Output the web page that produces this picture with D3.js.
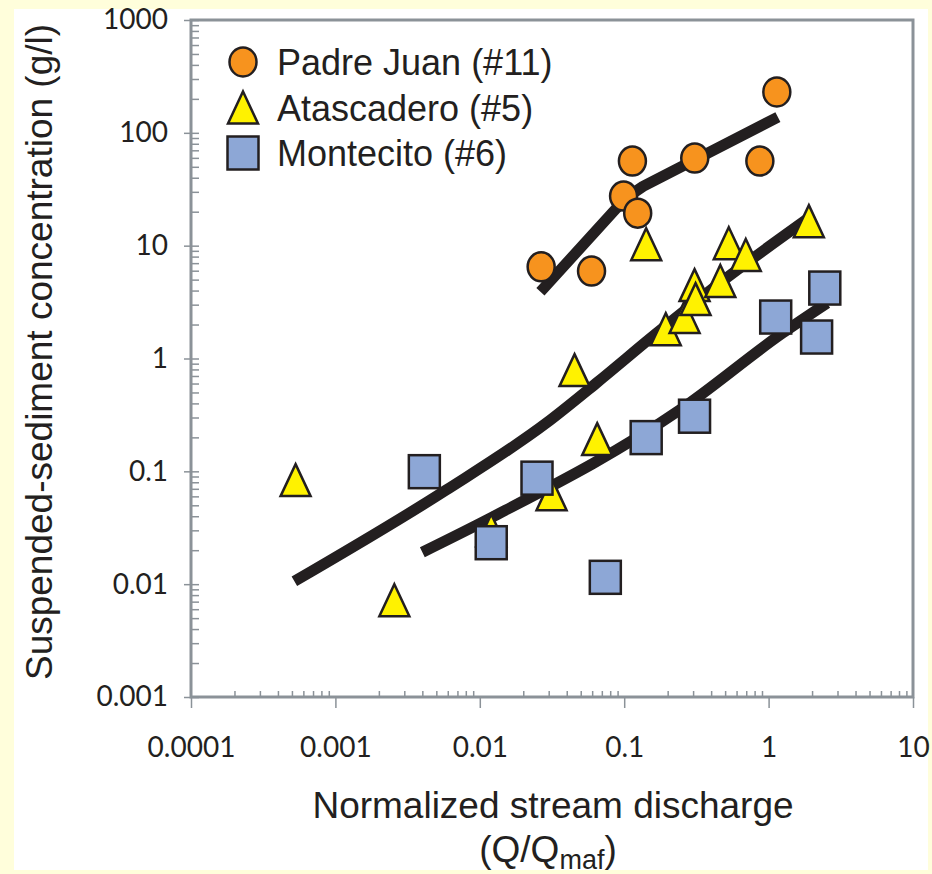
<!DOCTYPE html>
<html>
<head>
<meta charset="utf-8">
<script src="https://cdn.jsdelivr.net/npm/d3@7"></script>
<style>
	body { margin: 0; background: #fffedb; }
	svg { display: block; }
	.tick text { font-family: Lato, 'Open Sans', sans-serif; font-size: 28px; fill: #231f20; }
	.title { font-family: 'Liberation Sans', Arial, sans-serif; fill: #231f20; }
</style>
</head>
<body>
<svg id="chart" width="932" height="874"></svg>
<script>
// measured points (Q/Qmaf, g/l)
var padreQ = [ 0.0266, 0.0594, 0.114, 0.099, 0.124, 0.308, 0.87, 1.14 ];
var padreC = [ 6.5, 5.95, 56.2, 27.5, 19.4, 59.8, 56.2, 230 ];

var ataQ = [ 0.00053, 0.00256, 0.012, 0.0314, 0.065, 0.0453, 0.142, 0.194, 0.262, 0.307, 0.312, 0.463, 0.53, 0.695, 1.90 ];
var ataC = [ 0.0836, 0.0072, 0.030, 0.0628, 0.193, 0.789, 10.3, 1.82, 2.33, 4.47, 3.36, 4.86, 10.5, 8.26, 16.5 ];

var monteQ = [ 0.00413, 0.0120, 0.0249, 0.074, 0.142, 0.307, 1.12, 2.15, 2.45 ];
var monteC = [ 0.0993, 0.0233, 0.087, 0.0115, 0.199, 0.308, 2.33, 1.55, 4.21 ];

// fitted curves
var padreFitQ = [ 0.0263, 0.0885, 0.112, 0.135, 1.16 ];
var padreFitC = [ 3.9, 21.5, 28.5, 33.5, 138 ];
var ataFitQ = [ 0.00052, 0.00583, 0.0288, 0.0641, 0.168, 0.459, 2.03 ];
var ataFitC = [ 0.0106, 0.0681, 0.267, 0.605, 1.68, 4.66, 18.7 ];
var monteFitQ = [ 0.0040, 0.0122, 0.242, 1.25, 2.54 ];
var monteFitC = [ 0.0192, 0.0393, 0.349, 1.68, 3.10 ];

var xTicks = [ 0.0001, 0.001, 0.01, 0.1, 1, 10 ];
var xTickLabels = [ '0.0001', '0.001', '0.01', '0.1', '1', '10' ];
var yTicks = [ 0.001, 0.01, 0.1, 1, 10, 100, 1000 ];
var yTickLabels = [ '0.001', '0.01', '0.1', '1', '10', '100', '1000' ];

var seriesNames = [ 'Padre Juan (#11)', 'Atascadero (#5)', 'Montecito (#6)' ];

var ink = '#231f20';
var axisGrey = '#8b9298';
var colors = { circle: '#f7931e', triangle: '#fff200', square: '#8da7d6' };

var svg = d3.select( '#chart' );

svg.append( 'rect' )
	.attr( 'x', 14 ).attr( 'y', 9 )
	.attr( 'width', 914 ).attr( 'height', 861 )
	.attr( 'fill', '#ffffff' );

var x = d3.scaleLog().domain( [ 0.0001, 10 ] ).range( [ 191, 913 ] );
var y = d3.scaleLog().domain( [ 0.001, 1000 ] ).range( [ 697, 20 ] );

function minorTicks( majors ) {
	var out = [];
	majors.slice( 0, -1 ).forEach( function ( m ) {
		for ( var k = 2; k <= 9; k++ ) out.push( m * k );
	} );
	return out;
}

// frame
svg.append( 'rect' )
	.attr( 'x', x( 0.0001 ) ).attr( 'y', y( 1000 ) )
	.attr( 'width', x( 10 ) - x( 0.0001 ) )
	.attr( 'height', y( 0.001 ) - y( 1000 ) )
	.attr( 'fill', 'none' )
	.attr( 'stroke', axisGrey )
	.attr( 'stroke-width', 3 );

// y axis
var yMinor = svg.append( 'g' )
	.attr( 'transform', 'translate(' + x( 0.0001 ) + ',0)' )
	.call( d3.axisRight( y ).tickValues( minorTicks( yTicks ).concat( yTicks ) ).tickSize( 8 ).tickFormat( '' ) );
var yMajor = svg.append( 'g' )
	.attr( 'transform', 'translate(' + x( 0.0001 ) + ',0)' )
	.call( d3.axisLeft( y ).tickValues( yTicks ).tickSize( 7 ).tickPadding( 16 )
		.tickFormat( function ( d, i ) { return yTickLabels[i]; } ) );

// x axis
var xMinor = svg.append( 'g' )
	.attr( 'transform', 'translate(0,' + y( 0.001 ) + ')' )
	.call( d3.axisTop( x ).tickValues( minorTicks( xTicks ) ).tickSize( 6 ).tickFormat( '' ) );
var xMajor = svg.append( 'g' )
	.attr( 'transform', 'translate(0,' + y( 0.001 ) + ')' )
	.call( d3.axisBottom( x ).tickValues( xTicks ).tickSize( 11 ).tickPadding( 29 )
		.tickFormat( function ( d, i ) { return xTickLabels[i]; } ) );

[ yMinor, yMajor, xMinor, xMajor ].forEach( function ( g ) {
	g.select( '.domain' ).remove();
	g.selectAll( '.tick line' ).attr( 'stroke', axisGrey ).attr( 'stroke-width', 1.5 );
	g.attr( 'font-family', null ).attr( 'font-size', null );
} );

// fitted lines
var line = d3.line()
	.x( function ( d ) { return x( d[0] ); } )
	.y( function ( d ) { return y( d[1] ); } );

[ [ padreFitQ, padreFitC, d3.curveLinear ], [ ataFitQ, ataFitC, d3.curveMonotoneX ], [ monteFitQ, monteFitC, d3.curveMonotoneX ] ].forEach( function ( s ) {
	svg.append( 'path' )
		.datum( d3.zip( s[0], s[1] ) )
		.attr( 'd', line.curve( s[2] ) )
		.attr( 'fill', 'none' )
		.attr( 'stroke', ink )
		.attr( 'stroke-width', 11 )
		.attr( 'stroke-linecap', 'butt' )
		.attr( 'stroke-linejoin', 'round' );
} );

// marker drawing
function drawCircle( g, cx, cy ) {
	g.append( 'ellipse' )
		.attr( 'cx', cx ).attr( 'cy', cy )
		.attr( 'rx', 13.5 ).attr( 'ry', 14.5 )
		.attr( 'fill', colors.circle )
		.attr( 'stroke', ink ).attr( 'stroke-width', 2.5 );
}
function drawTriangle( g, cx, cy ) {
	var w = 30, h = 32;
	g.append( 'path' )
		.attr( 'd', 'M' + cx + ',' + ( cy - h / 2 ) + 'L' + ( cx + w / 2 ) + ',' + ( cy + h / 2 ) + 'L' + ( cx - w / 2 ) + ',' + ( cy + h / 2 ) + 'Z' )
		.attr( 'fill', colors.triangle )
		.attr( 'stroke', ink ).attr( 'stroke-width', 2.5 )
		.attr( 'stroke-linejoin', 'miter' );
}
function drawSquare( g, cx, cy ) {
	var w = 31, h = 33;
	g.append( 'rect' )
		.attr( 'x', cx - w / 2 ).attr( 'y', cy - h / 2 )
		.attr( 'width', w ).attr( 'height', h )
		.attr( 'fill', colors.square )
		.attr( 'stroke', ink ).attr( 'stroke-width', 2.5 );
}

var marks = svg.append( 'g' );
padreQ.forEach( function ( q, i ) { drawCircle( marks, x( q ), y( padreC[i] ) ); } );
ataQ.forEach( function ( q, i ) { drawTriangle( marks, x( q ), y( ataC[i] ) ); } );
monteQ.forEach( function ( q, i ) { drawSquare( marks, x( q ), y( monteC[i] ) ); } );

// legend
var legend = svg.append( 'g' );
var drawers = [ drawCircle, drawTriangle, drawSquare ];
seriesNames.forEach( function ( name, i ) {
	var cy = 62 + i * 45.5;
	drawers[i]( legend, 243, cy );
	legend.append( 'text' )
		.attr( 'class', 'title' )
		.attr( 'x', 277 ).attr( 'y', cy + 13 )
		.attr( 'font-size', 36 )
		.text( name );
} );

// axis titles
svg.append( 'text' )
	.attr( 'class', 'title' )
	.attr( 'transform', 'translate(52,352) rotate(-90)' )
	.attr( 'text-anchor', 'middle' )
	.attr( 'font-size', 37 )
	.text( 'Suspended-sediment concentration (g/l)' );

svg.append( 'text' )
	.attr( 'class', 'title' )
	.attr( 'x', 553 ).attr( 'y', 818 )
	.attr( 'text-anchor', 'middle' )
	.attr( 'font-size', 37 )
	.text( 'Normalized stream discharge' );

var sub = svg.append( 'text' )
	.attr( 'class', 'title' )
	.attr( 'x', 548 ).attr( 'y', 862 )
	.attr( 'text-anchor', 'middle' )
	.attr( 'font-size', 37 );
sub.append( 'tspan' ).text( '(Q/Q' );
sub.append( 'tspan' ).attr( 'font-size', 27 ).attr( 'dy', 7 ).text( 'maf' );
sub.append( 'tspan' ).attr( 'dy', -7 ).text( ')' );
</script>
</body>
</html>
